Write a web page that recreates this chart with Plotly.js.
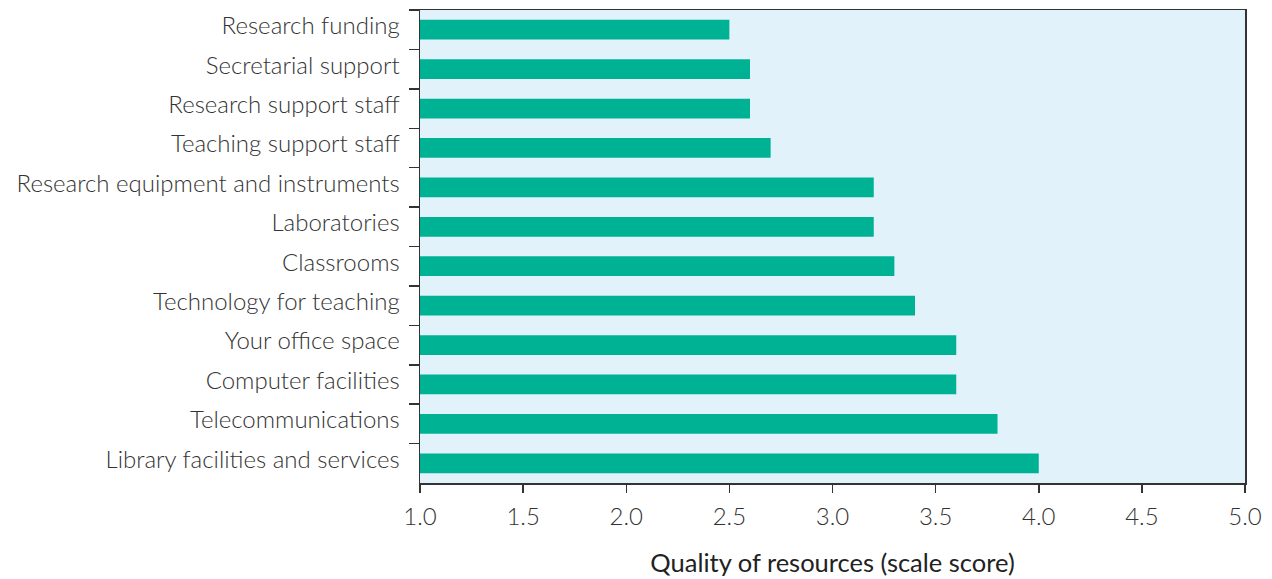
<!DOCTYPE html>
<html>
<head>
<meta charset="utf-8">
<script src="https://cdn.plot.ly/plotly-3.0.1.min.js"></script>
<style>html,body{margin:0;padding:0;background:#fff;}#chart{width:1272px;height:579px;}</style>
</head>
<body>
<div id="chart"></div>
<script>
const categories = [
  "Research funding",
  "Secretarial support",
  "Research support staff",
  "Teaching support staff",
  "Research equipment and instruments",
  "Laboratories",
  "Classrooms",
  "Technology for teaching",
  "Your office space",
  "Computer facilities",
  "Telecommunications",
  "Library facilities and services"
];
const scores = [2.5, 2.6, 2.6, 2.7, 3.2, 3.2, 3.3, 3.4, 3.6, 3.6, 3.8, 4.0];
const xTicks = [1.0, 1.5, 2.0, 2.5, 3.0, 3.5, 4.0, 4.5, 5.0];
const xTitle = "Quality of resources (scale score)";
const axisOrigin = 1;

const trace = {
  type: "bar",
  orientation: "h",
  y: categories,
  x: scores.map(v => v - axisOrigin),
  base: axisOrigin,
  width: 0.5,
  marker: {color: "#00b294", line: {width: 0}},
  hoverinfo: "skip"
};

const layout = {
  width: 1272,
  height: 579,
  margin: {l: 420, r: 27, t: 10, b: 96},
  paper_bgcolor: "#ffffff",
  plot_bgcolor: "#e1f2fa",
  font: {family: "Lato, 'Open Sans', sans-serif", color: "#333333", size: 24},
  showlegend: false,
  xaxis: {
    range: [1, 5],
    tickvals: xTicks,
    ticktext: xTicks.map(v => v.toFixed(1)),
    ticks: "outside",
    ticklen: 8,
    tickwidth: 1.5,
    tickcolor: "#333333",
    showline: true,
    linecolor: "#333333",
    linewidth: 1.5,
    mirror: true,
    showgrid: false,
    zeroline: false,
    ticklabelstandoff: 4,
    tickfont: {size: 24, color: "#333333", family: "Lato, sans-serif", weight: 300},
    title: {text: xTitle, font: {size: 25.5, color: "#222222", family: "Lato, sans-serif"}, standoff: 25}
  },
  yaxis: {
    type: "category",
    autorange: "reversed",
    ticks: "outside",
    tickson: "boundaries",
    ticklen: 10,
    tickwidth: 1.5,
    tickcolor: "#333333",
    showline: true,
    linecolor: "#333333",
    linewidth: 1.5,
    mirror: true,
    showgrid: false,
    zeroline: false,
    ticklabelstandoff: 14,
    ticklabelshift: 4,
    tickfont: {size: 24, color: "#333333", family: "Lato, sans-serif", weight: 300}
  }
};

Plotly.newPlot("chart", [trace], layout, {displayModeBar: false, staticPlot: true});
</script>
</body>
</html>
